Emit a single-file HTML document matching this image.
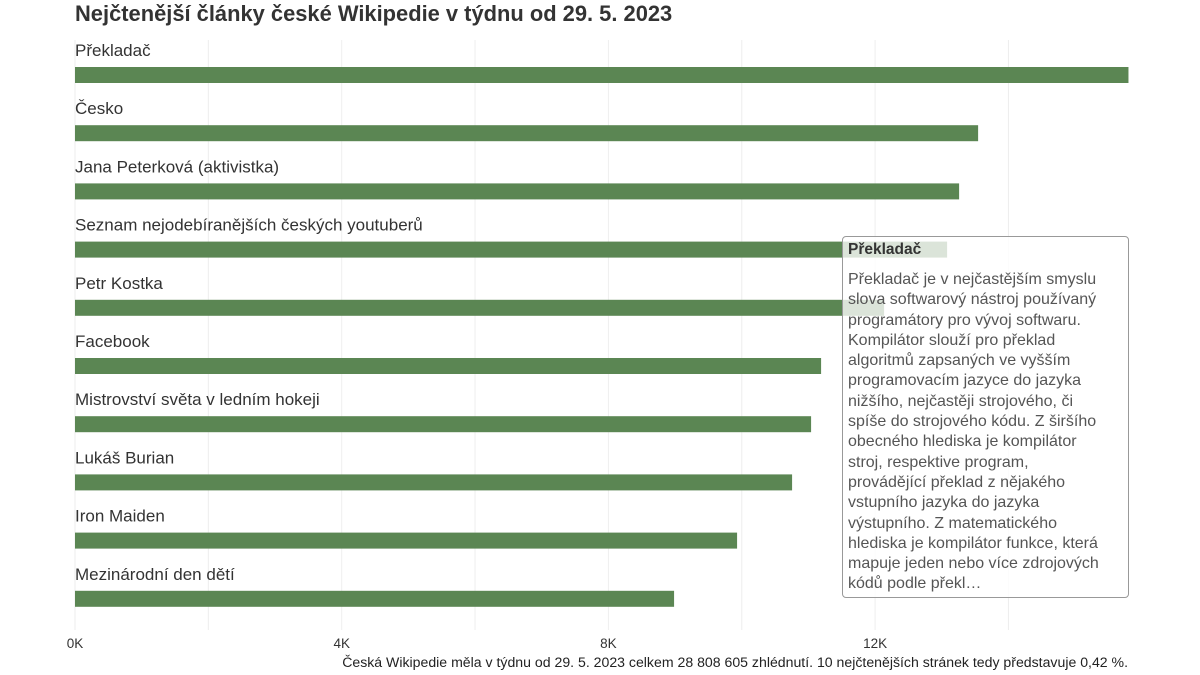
<!DOCTYPE html>
<html><head><meta charset="utf-8">
<style>
body{margin:0;width:1200px;height:675px;background:#fff;font-family:"Liberation Sans",sans-serif;color:#333;position:relative;overflow:hidden}
#title{position:absolute;left:75px;top:1px;font-size:21.9px;font-weight:bold;color:#333}
#foot{position:absolute;right:72px;top:654px;font-size:14.1px;color:#222;white-space:nowrap}
#tip{position:absolute;left:842px;top:236px;width:258px;height:352px;padding:4px 22px 4px 5px;border:1px solid #999;border-radius:4px;background:rgba(255,255,255,0.78);font-size:16px;line-height:20.3px;color:#555}
#tip b{display:block;font-size:15.5px;color:#333;margin-bottom:11px;line-height:18px}
</style></head><body>
<div id="title">Nejčtenější články české Wikipedie v týdnu od 29. 5. 2023</div>
<svg id="chart" width="1200" height="675" style="position:absolute;left:0;top:0"></svg>
<div id="tip"><b>Překladač</b>Překladač je v nejčastějším smyslu slova softwarový nástroj používaný programátory pro vývoj softwaru. Kompilátor slouží pro překlad algoritmů zapsaných ve vyšším programovacím jazyce do jazyka nižšího, nejčastěji strojového, či spíše do strojového kódu. Z širšího obecného hlediska je kompilátor stroj, respektive program, provádějící překlad z nějakého vstupního jazyka do jazyka výstupního. Z matematického hlediska je kompilátor funkce, která mapuje jeden nebo více zdrojových kódů podle překl…</div>
<div id="foot">Česká Wikipedie měla v týdnu od 29. 5. 2023 celkem 28 808 605 zhlédnutí. 10 nejčtenějších stránek tedy představuje 0,42 %.</div>
<script>
const categories=["Překladač","Česko","Jana Peterková (aktivistka)","Seznam nejodebíranějších českých youtuberů","Petr Kostka","Facebook","Mistrovství světa v ledním hokeji","Lukáš Burian","Iron Maiden","Mezinárodní den dětí"];
const views=[15800,13545,13260,13080,12135,11190,11040,10755,9930,8985];
const tickValues=[0,4000,8000,12000];
const tickLabels=["0K","4K","8K","12K"];
const svg=document.getElementById('chart');
const NS='http://www.w3.org/2000/svg';
const x0=75,pxPer=266.7/4000;
const xs=v=>x0+v*pxPer;
const yBar=i=>67+i*58.2;
function mk(t,a){const e=document.createElementNS(NS,t);for(const k in a)e.setAttribute(k,a[k]);svg.appendChild(e);return e;}
for(let v=0;v<16000;v+=2000){
 const g=mk('line',{x1:xs(v),x2:xs(v),y1:40,y2:630,stroke:'#eee','stroke-width':1});
 
 
}
tickValues.forEach((v,i)=>{
 const t=mk('text',{x:xs(v),y:648,'text-anchor':'middle','font-size':13.5,fill:'#333'});
 t.textContent=tickLabels[i];
 
 
});
categories.forEach((c,i)=>{
 const l=mk('text',{x:75,y:yBar(i)-11,'font-size':17,fill:'#333'});
 l.textContent=c;
 
 
 const r=mk('rect',{x:x0,y:yBar(i),width:xs(views[i])-x0,height:16,fill:'#5b8653'});
 
 
});
</script>
</body></html>
